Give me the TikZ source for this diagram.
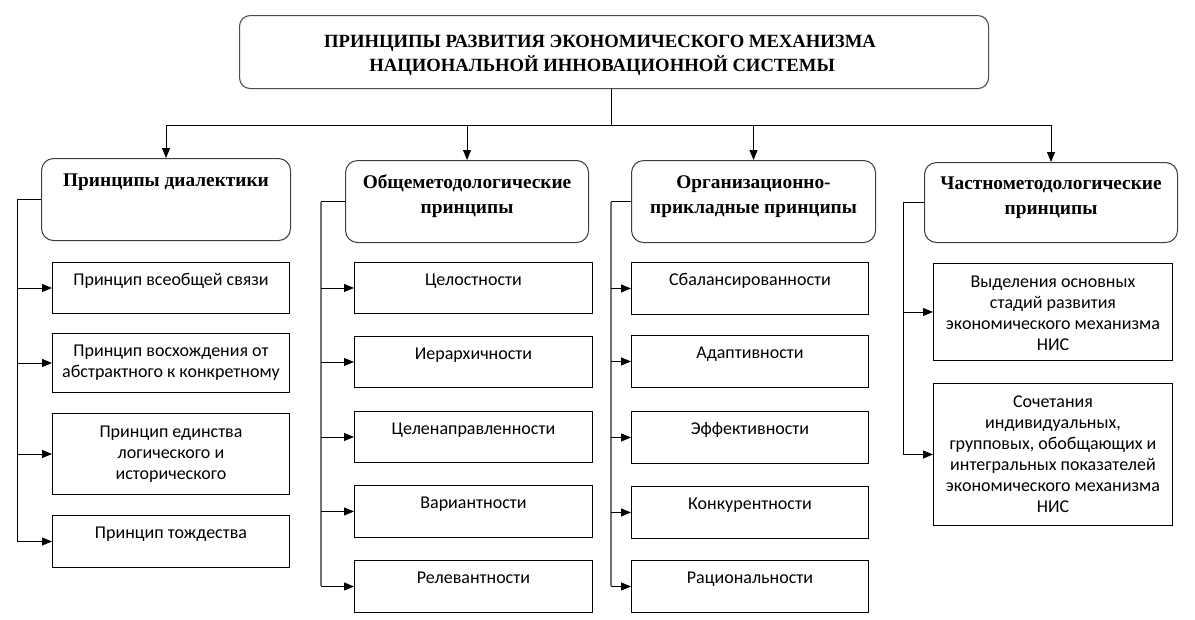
\documentclass[tikz,border=0pt]{standalone}
\usepackage{fontspec}
\setmainfont{Carlito}
\newfontfamily\headfont{Liberation Serif}
\usetikzlibrary{arrows.meta}
\newdimen\pxu \pxu=0.75pt
\newcommand{\cellbox}[4]{\parbox[c][#2\pxu][t]{#1\pxu}{\centering\vspace*{#3\pxu}\strut #4}}

\begin{document}
\begin{tikzpicture}[x=0.75pt, y=-0.75pt,
    every node/.style={inner sep=0pt, anchor=north west},
    topbox/.style={draw=black!70, rounded corners=8pt, line width=0.8pt,
      font=\headfont\bfseries\fontsize{14}{15.2}\selectfont},
    catbox/.style={draw=black!75, rounded corners=9pt, line width=0.8pt,
      font=\headfont\bfseries\fontsize{14.5}{19}\selectfont},
    itembox/.style={draw, line width=0.7pt, font=\fontsize{13.5}{15.75}\selectfont},
    link/.style={line width=0.7pt},
    spine/.style={line width=0.8pt, draw=black!55},
    >={Triangle[length=7.5pt, width=6pt]}]
    \useasboundingbox (0,0) rectangle (1195,619);

    \node[topbox] (title) at (239,15)
      {\cellbox{749}{73}{18}{\hspace*{-28\pxu}ПРИНЦИПЫ РАЗВИТИЯ ЭКОНОМИЧЕСКОГО МЕХАНИЗМА\\
       \hspace*{-24\pxu}НАЦИОНАЛЬНОЙ ИННОВАЦИОННОЙ СИСТЕМЫ}};

    \node[catbox] (c1) at (41,158) {\cellbox{249}{82}{10}{Принципы диалектики}};
    \node[catbox] (c2) at (345,160) {\cellbox{243}{82}{10}{Общеметодологические\\принципы}};
    \node[catbox] (c3) at (631,160) {\cellbox{244}{82}{10}{Организационно-\\прикладные принципы}};
    \node[catbox] (c4) at (924,162) {\cellbox{253}{80}{9}{Частнометодологические\\принципы}};

    \node[itembox] (d1) at (52,262) {\cellbox{237}{51}{8}{Принцип всеобщей связи}};
    \node[itembox] (d2) at (52,333) {\cellbox{237}{59}{8}{Принцип восхождения от\\абстрактного к конкретному}};
    \node[itembox] (d3) at (52,413) {\cellbox{237}{81}{9}{Принцип единства\\логического и\\исторического}};
    \node[itembox] (d4) at (52,515) {\cellbox{237}{52}{8}{Принцип тождества}};

    \node[itembox] (m1) at (354,262) {\cellbox{238}{51}{8}{Целостности}};
    \node[itembox] (m2) at (354,336) {\cellbox{238}{51}{8}{Иерархичности}};
    \node[itembox] (m3) at (354,411) {\cellbox{238}{51}{8}{Целенаправленности}};
    \node[itembox] (m4) at (354,485) {\cellbox{238}{52}{8}{Вариантности}};
    \node[itembox] (m5) at (354,560) {\cellbox{238}{52}{8}{Релевантности}};

    \node[itembox] (o1) at (631,262) {\cellbox{237}{52}{8}{Сбалансированности}};
    \node[itembox] (o2) at (631,335) {\cellbox{237}{52}{8}{Адаптивности}};
    \node[itembox] (o3) at (631,411) {\cellbox{237}{52}{8}{Эффективности}};
    \node[itembox] (o4) at (631,486) {\cellbox{237}{52}{8}{Конкурентности}};
    \node[itembox] (o5) at (631,560) {\cellbox{237}{52}{8}{Рациональности}};

    \node[itembox] (p1) at (933,263) {\cellbox{239}{97}{9}{Выделения основных\\стадий развития\\экономического механизма\\НИС}};
    \node[itembox] (p2) at (933,383) {\cellbox{239}{142}{9}{Сочетания\\индивидуальных,\\групповых, обобщающих и\\интегральных показателей\\экономического механизма\\НИС}};

    \coordinate (bus) at (611,125);
    \draw[link] (title.south -| bus) -- (bus);
    \draw[link] (c1.north |- bus) -- (c4.north |- bus);
    \foreach \c in {c1,c2,c3,c4}
      \draw[link,->] (\c.north |- bus) -- (\c.north);

    \coordinate (s1) at (17,0);
    \coordinate (s2) at (321,0);
    \coordinate (s3) at (611,0);
    \coordinate (s4) at (903,0);

    \draw[link] (c1.west) -- (c1.west -| s1) -- (d4.west -| s1);
    \foreach \i in {1,...,4}
      \draw[link,->] (d\i.west -| s1) -- (d\i.west);

    \draw[link] (c2.west) -- (c2.west -| s2);
    \draw[spine] (c2.west -| s2) -- (m5.west -| s2);
    \foreach \i in {1,...,5}
      \draw[link,->] (m\i.west -| s2) -- (m\i.west);

    \draw[link] (c3.west) -- (c3.west -| s3);
    \draw[spine] (c3.west -| s3) -- (o5.west -| s3);
    \foreach \i in {1,...,5}
      \draw[link,->] (o\i.west -| s3) -- (o\i.west);

    \draw[link] (c4.west) -- (c4.west -| s4) -- (p2.west -| s4);
    \foreach \i in {1,2}
      \draw[link,->] (p\i.west -| s4) -- (p\i.west);
\end{tikzpicture}
\end{document}
